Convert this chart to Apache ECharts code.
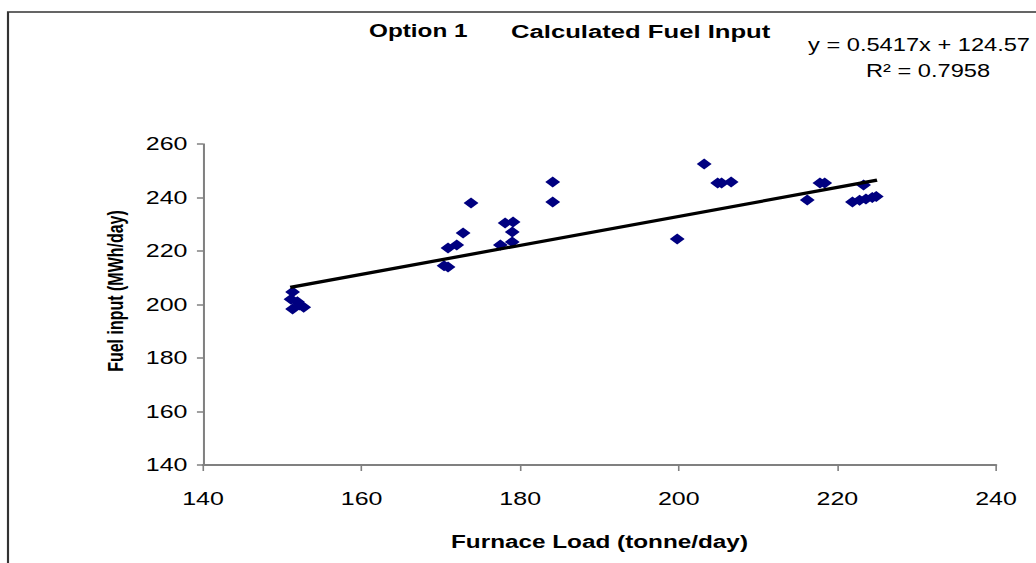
<!DOCTYPE html>
<html>
<head>
<meta charset="utf-8">
<script src="https://cdn.jsdelivr.net/npm/echarts@6/dist/echarts.min.js"></script>
<style>
html,body{margin:0;padding:0;background:#fff;}
#wrap{width:1036px;height:563px;overflow:hidden;position:relative;background:#fff;}
#chart{width:767px;height:563px;transform:scaleX(1.350717);transform-origin:0 0;}
</style>
</head>
<body>
<div id="wrap"><div id="chart"></div></div>
<script>
// Data
var loadX = [151.3, 151.1, 151.3, 151.9, 152.2, 152.7,
             170.4, 170.9, 170.9, 172.0, 172.8, 173.8, 177.5, 178.1, 179.1, 179.0, 179.0, 184.1, 184.1,
             199.8, 203.2, 204.9, 205.4, 206.6, 216.2, 217.8, 218.4, 221.9, 222.8, 223.6, 224.4, 224.9, 223.3];
var fuelY = [204.7, 202.0, 198.3, 201.0, 199.8, 199.0,
             214.5, 214.0, 221.1, 222.2, 226.7, 237.9, 222.2, 230.5, 230.8, 227.1, 223.4, 245.8, 238.3,
             224.5, 252.5, 245.4, 245.4, 245.8, 239.1, 245.4, 245.4, 238.3, 239.0, 239.4, 240.0, 240.4, 244.7];
var trendX = [151, 225];
var trendY = [206.4, 246.5];
var xTicks = [140, 160, 180, 200, 220, 240];
var yTicks = [140, 160, 180, 200, 220, 240, 260];
var titleMain = 'Option 1';
var titleSub = 'Calculated Fuel Input';
var equationText = 'y = 0.5417x + 124.57';
var r2Text = 'R\u00b2 = 0.7958';
var xName = 'Furnace Load (tonne/day)';
var yName = 'Fuel input (MWh/day)';

var S = 1036 / 767;
var FONT = '"Liberation Sans", Arial, sans-serif';

var points = loadX.map(function (x, i) { return [x, fuelY[i]]; });
var trend = trendX.map(function (x, i) { return [x, trendY[i]]; });

var chart = echarts.init(document.getElementById('chart'), null, {renderer: 'svg', width: 767, height: 563});
chart.setOption({
  animation: false,
  backgroundColor: '#fff',
  textStyle: {fontFamily: FONT},
  title: [
    {text: titleMain, left: 369 / S, top: 22, padding: 0,
     textStyle: {fontFamily: FONT, fontSize: 18, fontWeight: 'bold', color: '#000'}},
    {text: titleSub, left: 511 / S, top: 22, padding: 0,
     textStyle: {fontFamily: FONT, fontSize: 19, fontWeight: 'bold', color: '#000'}}
  ],
  grid: {left: 203 / S, right: 767 - 996 / S, top: 144, bottom: 98, containLabel: false},
  xAxis: {
    type: 'value', min: xTicks[0], max: xTicks[xTicks.length - 1], interval: 20,
    name: xName, nameLocation: 'middle', nameGap: 68,
    nameTextStyle: {fontFamily: FONT, fontSize: 18, fontWeight: 'bold', color: '#000'},
    axisLine: {show: true, lineStyle: {color: '#808080', width: 2}},
    axisTick: {show: true, length: 6, lineStyle: {color: '#808080', width: 1.2}},
    axisLabel: {margin: 24, fontFamily: FONT, fontSize: 18.5, color: '#000'},
    splitLine: {show: false}
  },
  yAxis: {
    type: 'value', min: yTicks[0], max: yTicks[yTicks.length - 1], interval: 20,
    axisLine: {show: true, lineStyle: {color: '#808080', width: 1.5}},
    axisTick: {show: true, length: 4.5, lineStyle: {color: '#808080', width: 1.5}},
    axisLabel: {margin: 11.5, fontFamily: FONT, fontSize: 18.5, color: '#000'},
    splitLine: {show: false}
  },
  graphic: [
    {type: 'rect', silent: true, z: -1,
     shape: {x: 8 / S, y: 12, width: 3000, height: 3000},
     style: {fill: 'none', stroke: '#333', lineWidth: 1.6}},
    {type: 'text', x: 116 / S, y: 291, rotation: Math.PI / 2,
     style: {text: yName, font: 'bold 16px ' + FONT, fill: '#000', textAlign: 'center', textVerticalAlign: 'middle'}},
    {type: 'text', x: 1030 / S, y: 45,
     style: {text: equationText, font: '17.5px ' + FONT, fill: '#000', textAlign: 'right', textVerticalAlign: 'middle'}},
    {type: 'text', x: 928 / S, y: 71,
     style: {text: r2Text, font: '17.5px ' + FONT, fill: '#000', textAlign: 'center', textVerticalAlign: 'middle'}}
  ],
  series: [
    {type: 'scatter', data: points, symbol: 'diamond', symbolSize: 11,
     itemStyle: {color: '#000080', opacity: 1}, z: 2},
    {type: 'line', data: trend, symbol: 'none', lineStyle: {color: '#000', width: 3.2}, z: 3}
  ]
});
</script>
</body>
</html>
